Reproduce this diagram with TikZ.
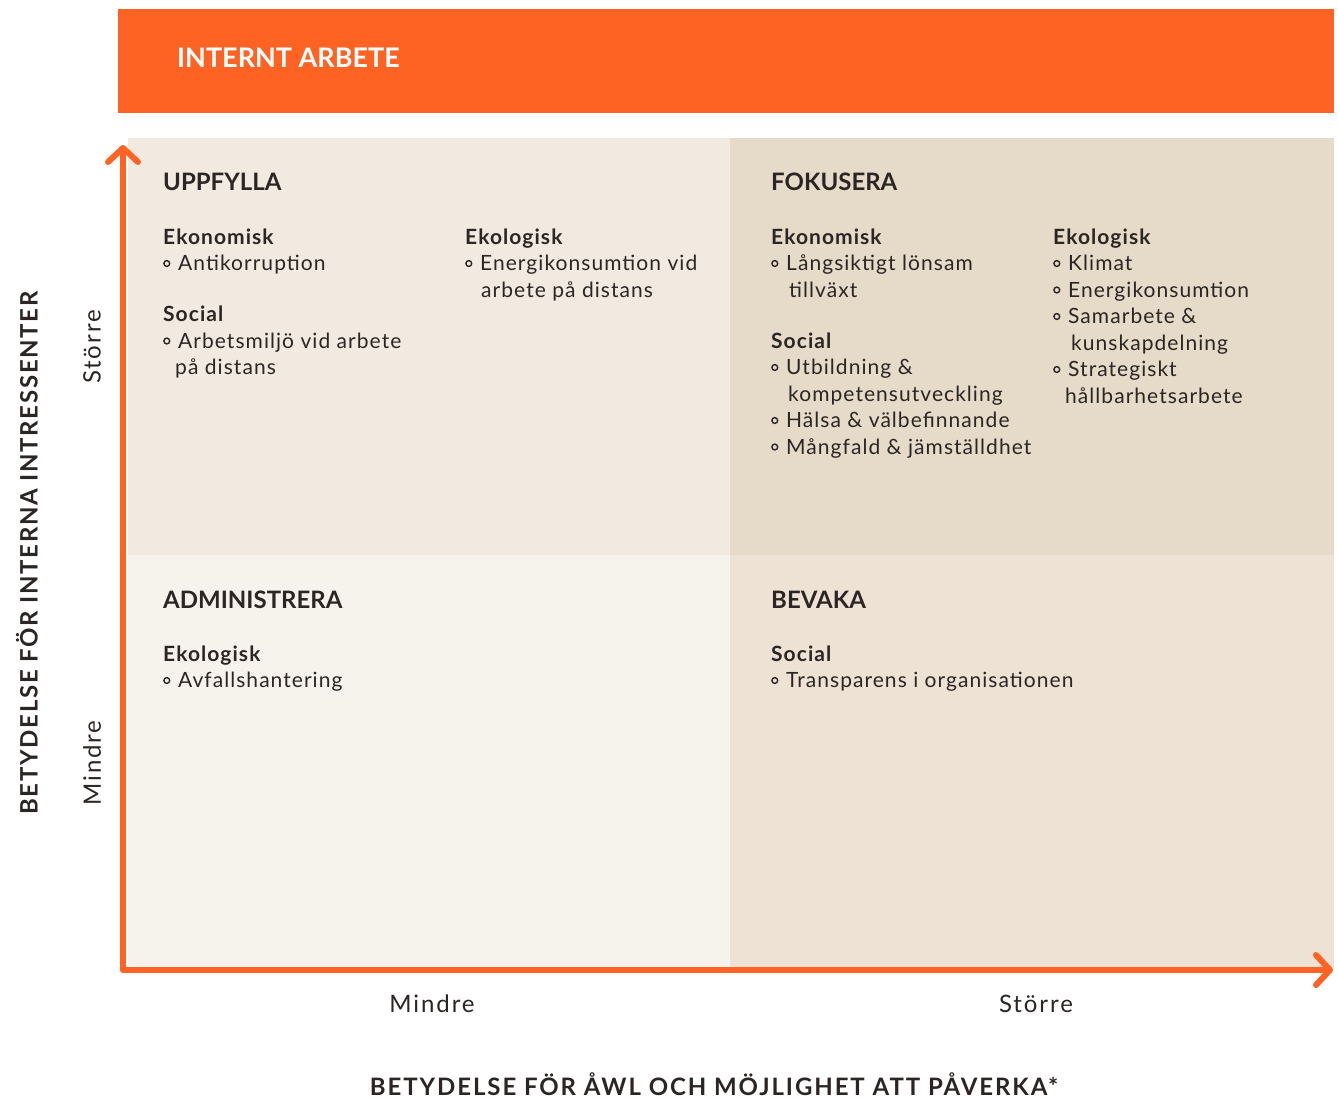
\documentclass[tikz,border=0pt]{standalone}
\usepackage{fontspec}
\setmainfont{Lato}
\newfontfamily\bodyf[LetterSpace=5]{Lato}
\newfontfamily\axf[LetterSpace=8]{Lato}
\newfontfamily\ttlf[LetterSpace=7]{Lato}
\newfontfamily\ttlxf[LetterSpace=8]{Lato}
\usetikzlibrary{arrows.meta}
\definecolor{orng}{HTML}{FF6324}
\definecolor{ink}{HTML}{2B2623}
\definecolor{qul}{HTML}{F2E9E0}
\definecolor{qur}{HTML}{E6DAC9}
\definecolor{qll}{HTML}{F6F2EC}
\definecolor{qlr}{HTML}{EEE2D4}
\newcommand{\bul}{\makebox[15pt][l]{\tikz[baseline=0pt]\draw[ink,line width=1.4pt] (3.5pt,7pt) circle (2.9pt);}}
\newcommand{\tblk}[1]{\begin{tabular}[t]{@{}l@{}}#1\end{tabular}}
\begin{document}
\begin{tikzpicture}[x=1pt,y=-1pt,
  hdr/.style={anchor=base west, font=\bfseries\fontsize{24}{28}\selectfont, text=ink, inner sep=0pt},
  blk/.style={anchor=base west, font=\bodyf\fontsize{21}{26.5}\selectfont, text=ink, inner sep=0pt},
  axlab/.style={font=\axf\fontsize{24}{28}\selectfont, text=ink, inner sep=0pt},
  axtitle/.style={font=\ttlf\bfseries\fontsize{24}{28}\selectfont, text=ink, inner sep=0pt},
  axis/.style={orng, line width=6pt, line join=round, line cap=round,
    {Straight Barb[length=14pt,width=30pt,round]}-{Straight Barb[length=14pt,width=30pt,round]}}]
\useasboundingbox (0,0) rectangle (1338,1098);
\fill[white] (0,0) rectangle (1338,1098);
% banner
\fill[orng] (118,9) rectangle (1334,113);
\node[anchor=base west, font=\bfseries\fontsize{27}{30}\selectfont, text=white, inner sep=0pt] (banner) at (177,67) {INTERNT ARBETE};
% quadrants
\fill[qul] (128,138) rectangle (730,555);
\fill[qur] (730,138) rectangle (1334,555);
\fill[qll] (128,555) rectangle (730,968);
\fill[qlr] (730,555) rectangle (1334,968);
% axes
\coordinate (ytip) at (123,145);
\coordinate (orig) at (123,970);
\coordinate (xtip) at (1333,970);
\draw[axis] (ytip) -- (orig) -- (xtip);
% headers
\node[hdr] (upp) at (163,190) {UPPFYLLA};
\node[hdr] (fok) at (771,190) {FOKUSERA};
\node[hdr] (adm) at (163,608) {ADMINISTRERA};
\node[hdr] (bev) at (771,608) {BEVAKA};
% blocks
\node[blk] (ul1) at (163,244) {\tblk{\textbf{Ekonomisk}\\\bul Antikorruption\\[24.5pt]\textbf{Social}\\\bul Arbetsmiljö vid arbete\\\hspace*{12pt}på distans}};
\node[blk] (ul2) at (465,244) {\tblk{\textbf{Ekologisk}\\\bul Energikonsumtion vid\\\hspace*{16pt}arbete på distans}};
\node[blk] (ur1) at (771,244) {\tblk{\textbf{Ekonomisk}\\\bul Långsiktigt lönsam\\\hspace*{18pt}tillväxt\\[24.5pt]\textbf{Social}\\\bul Utbildning \&\\\hspace*{17pt}kompetensutveckling\\\bul Hälsa \& välbefinnande\\\bul Mångfald \& jämställdhet}};
\node[blk] (ur2) at (1053,244) {\tblk{\textbf{Ekologisk}\\\bul Klimat\\\bul Energikonsumtion\\\bul Samarbete \&\\\hspace*{18pt}kunskapdelning\\\bul Strategiskt\\\hspace*{12pt}hållbarhetsarbete}};
\node[blk] (ll1) at (163,661) {\tblk{\textbf{Ekologisk}\\\bul Avfallshantering}};
\node[blk] (lr1) at (771,661) {\tblk{\textbf{Social}\\\bul Transparens i organisationen}};
% axis labels
\node[axlab] (xmin) at (432,1004) {Mindre};
\node[axlab] (xmax) at (1036,1004) {Större};
\node[axtitle, font=\ttlxf\bfseries\fontsize{24}{28}\selectfont] (xt) at (714,1084) {BETYDELSE FÖR ÅWL OCH MÖJLIGHET ATT PÅVERKA*};
\node[axlab, rotate=90] (ymax) at (92,347) {Större};
\node[axlab, rotate=90] (ymin) at (92,763) {Mindre};
\node[axtitle, rotate=90] (yt) at (27,553) {BETYDELSE FÖR INTERNA INTRESSENTER};
\end{tikzpicture}
\end{document}
